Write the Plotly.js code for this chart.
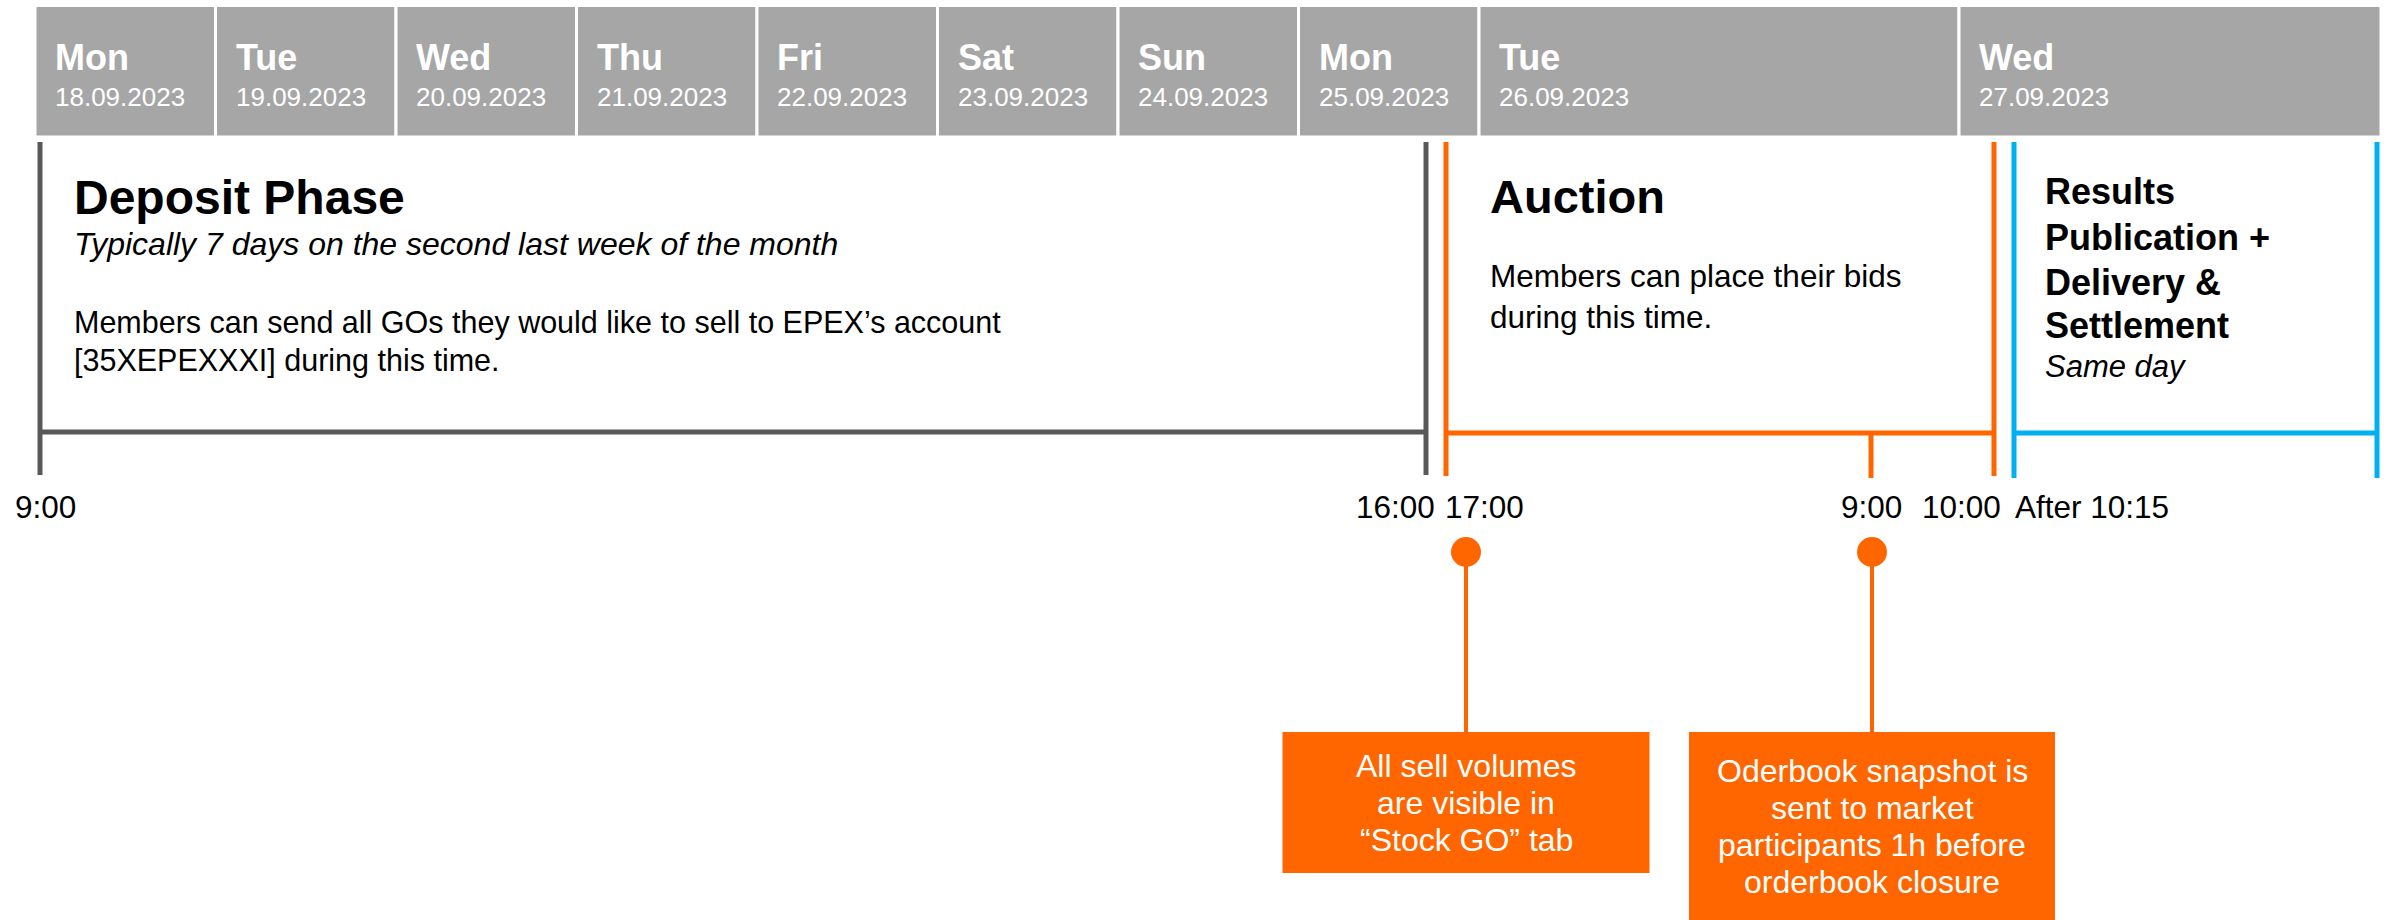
<!DOCTYPE html>
<html>
<head>
<meta charset="utf-8">
<script src="https://cdn.plot.ly/plotly-3.0.1.min.js"></script>
<style>html,body{margin:0;padding:0;background:#fff;}#chart{width:2390px;height:920px;}</style>
</head>
<body>
<div id="chart"></div>
<script>
// ---------------- DATA ----------------
const dayNames = ['Mon','Tue','Wed','Thu','Fri','Sat','Sun','Mon','Tue','Wed'];
const dayDates = ['18.09.2023','19.09.2023','20.09.2023','21.09.2023','22.09.2023','23.09.2023','24.09.2023','25.09.2023','26.09.2023','27.09.2023'];

const phaseTitles = [['Deposit Phase'], ['Auction'], ['Results','Publication +','Delivery &','Settlement']];
const phaseSubtitles = ['Typically 7 days on the second last week of the month', '', 'Same day'];
const phaseBodies = [
  ['Members can send all GOs they would like to sell to EPEX\u2019s account', '[35XEPEXXXI] during this time.'],
  ['Members can place their bids', 'during this time.'],
  []
];
const phaseStartLabels = ['9:00', '17:00', 'After 10:15'];
const phaseEndLabels = ['16:00', '10:00', ''];
const auctionMidLabel = '9:00';
const noteLines = [
  ['All sell volumes', 'are visible in', '\u201CStock GO\u201D tab'],
  ['Oderbook snapshot is', 'sent to market', 'participants 1h before', 'orderbook closure']
];

// ---------------- LAYOUT (positions / sizes / styles) ----------------
const FONT = 'Liberation Sans, Arial, sans-serif';
const colEdges = [35, 215.5, 396, 576.5, 757, 937.5, 1118, 1298.5, 1479, 1959, 2381];
const headerTop = 7, headerBottom = 137;
const phaseColors = ['#595959', '#FF6600', '#00B0F0'];
const phaseX = [[40, 1426], [1446, 1994], [2014, 2377]];
const phaseTop = 142, phaseBottom = [475, 476, 478], phaseMid = [432, 433, 433];
const titleX = [74, 1490, 2045];
const titleSize = [48, 47, 36];
const titleBase = [[214], [213], [204, 250, 295, 338]];
const subBase = [255, null, 377];
const subSize = [32, null, 31];
const bodyBase = [[333, 371], [287, 328], []];
const bodySize = [30.5, 31.5, 31];
const labelBase = 518, labelSize = 31.5;
const startLabelPos = [[45, 'center'], [1445, 'left'], [2015, 'left']];
const endLabelPos = [[1435, 'right'], [2001, 'right'], null];
const midTickX = 1871, midTickBottom = 478;
const noteX = [1466, 1872], dotY = 552, boxTop = 732, boxBottom = [873, 930], boxHalf = [183.5, 183];
const noteBase0 = [777, 782], noteStep = 37, noteSize = 32;

// ---------------- BUILD ----------------
function txt(x, baseline, text, size, o) {
  o = o || {};
  return {
    x: x, y: baseline - 0.347 * size, xref: 'x', yref: 'y',
    text: text, showarrow: false,
    xanchor: o.anchor || 'left', yanchor: 'middle',
    borderpad: 0, borderwidth: 0,
    font: {family: FONT, size: size, color: o.color || '#000000'}
  };
}

const traces = [];
const annotations = [];
const shapes = [];

// header columns (bars)
const colCenters = [], colWidths = [];
for (let i = 0; i < dayNames.length; i++) {
  colCenters.push((colEdges[i] + colEdges[i + 1]) / 2);
  colWidths.push(colEdges[i + 1] - colEdges[i]);
}
traces.push({
  type: 'bar', x: colCenters, width: colWidths,
  y: colCenters.map(() => headerBottom - headerTop + 1.5), base: headerTop - 1.5,
  marker: {color: '#A6A6A6', line: {color: '#FFFFFF', width: 3}},
  hoverinfo: 'skip', showlegend: false
});
dayNames.forEach((d, i) => {
  annotations.push(txt(colEdges[i] + 20, 70, '<b>' + d + '</b>', 36, {color: '#FFFFFF'}));
  annotations.push(txt(colEdges[i] + 20, 106, dayDates[i], 26, {color: '#FFFFFF'}));
});

// phase brackets
phaseTitles.forEach((t, i) => {
  const [xl, xr] = phaseX[i];
  const xs = [xl, xl, null, xl, xr, null, xr, xr];
  const ys = [phaseTop, phaseBottom[i], null, phaseMid[i], phaseMid[i], null, phaseTop, phaseBottom[i]];
  if (i === 1) { xs.push(null, midTickX, midTickX); ys.push(null, phaseMid[i], midTickBottom); }
  traces.push({type: 'scatter', mode: 'lines', x: xs, y: ys, connectgaps: false,
    line: {color: phaseColors[i], width: 5}, hoverinfo: 'skip', showlegend: false});
  t.forEach((line, k) => annotations.push(txt(titleX[i], titleBase[i][k], '<b>' + line + '</b>', titleSize[i])));
  if (phaseSubtitles[i]) annotations.push(txt(titleX[i], subBase[i], '<i>' + phaseSubtitles[i] + '</i>', subSize[i]));
  phaseBodies[i].forEach((line, k) => annotations.push(txt(titleX[i], bodyBase[i][k], line, bodySize[i])));
  const sp = startLabelPos[i];
  annotations.push(txt(sp[0], labelBase, phaseStartLabels[i], labelSize, {anchor: sp[1]}));
  if (phaseEndLabels[i]) {
    const ep = endLabelPos[i];
    annotations.push(txt(ep[0], labelBase, phaseEndLabels[i], labelSize, {anchor: ep[1]}));
  }
});
annotations.push(txt(midTickX, labelBase, auctionMidLabel, labelSize, {anchor: 'center'}));

// notes: stems, dots, boxes
noteLines.forEach((lines, i) => {
  traces.push({type: 'scatter', mode: 'lines', x: [noteX[i], noteX[i]], y: [dotY, boxTop + 1],
    line: {color: '#FF6600', width: 4}, hoverinfo: 'skip', showlegend: false});
  shapes.push({type: 'rect', xref: 'x', yref: 'y', x0: noteX[i] - boxHalf[i], x1: noteX[i] + boxHalf[i],
    y0: boxTop, y1: boxBottom[i], fillcolor: '#FF6600', line: {width: 0}, layer: 'below'});
  lines.forEach((line, k) => annotations.push(txt(noteX[i], noteBase0[i] + k * noteStep, line, noteSize, {anchor: 'center', color: '#FFFFFF'})));
});
traces.push({type: 'scatter', mode: 'markers', x: noteX, y: noteX.map(() => dotY),
  marker: {color: '#FF6600', size: 30, line: {width: 0}}, hoverinfo: 'skip', showlegend: false});

const layout = {
  width: 2390, height: 920,
  margin: {l: 0, r: 0, t: 0, b: 0, pad: 0},
  paper_bgcolor: '#FFFFFF', plot_bgcolor: '#FFFFFF',
  xaxis: {range: [0, 2390], visible: false, fixedrange: true},
  yaxis: {range: [920, 0], visible: false, fixedrange: true},
  showlegend: false, hovermode: false, bargap: 0,
  annotations: annotations, shapes: shapes,
  font: {family: FONT}
};
Plotly.newPlot('chart', traces, layout, {staticPlot: true, displayModeBar: false});
</script>
</body>
</html>
